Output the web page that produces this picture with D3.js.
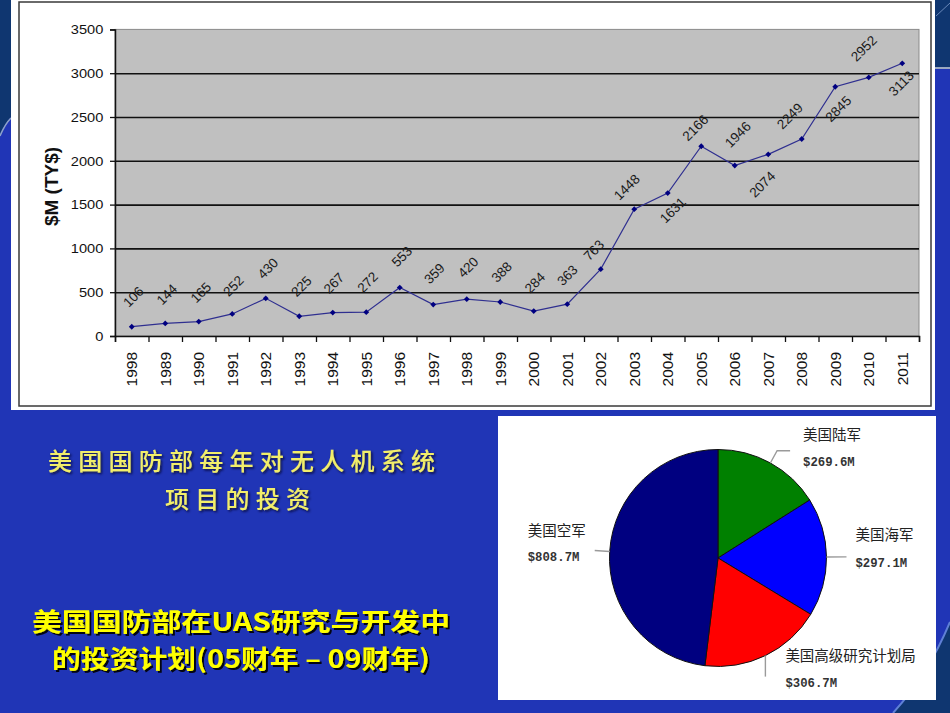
<!DOCTYPE html>
<html><head><meta charset="utf-8">
<script src="https://cdn.jsdelivr.net/npm/d3@7/dist/d3.min.js"></script>
<style>
html,body{margin:0;padding:0;background:#2035b6;}
svg{display:block;}
</style></head>
<body>
<svg id="c" width="950" height="713"></svg>
<script>
// ---------- data ----------
const categories = ["1998","1989","1990","1991","1992","1993","1994","1995","1996","1997","1998","1999","2000","2001","2002","2003","2004","2005","2006","2007","2008","2009","2010","2011"];
const values = [106,144,165,252,430,225,267,272,553,359,420,388,284,363,763,1448,1631,2166,1946,2074,2249,2845,2952,3113];
const yTicks = [0,500,1000,1500,2000,2500,3000,3500];
const gridValues = [500,1000,1500,2000,2500,3000];
const yAxisTitle = "$M (TY$)";

const pieNames = ["美国陆军","美国海军","美国高级研究计划局","美国空军"];
const pieValues = [269.6,297.1,306.7,808.7];
const pieValueText = ["$269.6M","$297.1M","$306.7M","$808.7M"];
const pieColors = ["#008000","#0000ff","#ff0000","#000080"];

const titleLines = ["美国国防部每年对无人机系统","项目的投资"];
const subLines = ["美国国防部在UAS研究与开发中","的投资计划(05财年 – 09财年)"];

// label nudges (dx, dy) of each value label relative to its point
const labelNudge = [[1.5,-30],[1.5,-29],[2,-29],[1,-28],[2,-30],[2,-30],[1,-29.5],[1.3,-30],[2,-31],[1,-31],[1.3,-32],[1.3,-30],[1,-28.5],[0,-29],[-7,-19],[-7.5,-22],[5,17],[-6,-18.5],[3,-31],[-6,30],[-12,-23],[3,22],[-5,-29],[-1,20]];

// ---------- drawing ----------
const svg = d3.select("#c");
const defs = svg.append("defs");
const f = defs.append("filter").attr("id","sh").attr("x","-10%").attr("y","-30%").attr("width","130%").attr("height","180%");
f.append("feDropShadow").attr("dx",2).attr("dy",2).attr("stdDeviation",0.7).attr("flood-color","#000").attr("flood-opacity",0.9);
const f2 = defs.append("filter").attr("id","sh2").attr("x","-10%").attr("y","-30%").attr("width","130%").attr("height","180%");
f2.append("feDropShadow").attr("dx",1.5).attr("dy",1.5).attr("stdDeviation",0.8).attr("flood-color","#101030").attr("flood-opacity",0.9);

// background
svg.append("rect").attr("width",950).attr("height",713).attr("fill","#2035b6");
svg.append("path").attr("d","M0,0H11V117Q5,123 0,134Z").attr("fill","#0f3670");
svg.append("path").attr("d","M0,136Q5,124 11,118").attr("fill","none").attr("stroke","#8ea3c9").attr("stroke-width",1.5);
svg.append("rect").attr("x",935).attr("y",0).attr("width",15).attr("height",68).attr("fill","#0f3670");
svg.append("line").attr("x1",935).attr("x2",950).attr("y1",68).attr("y2",68).attr("stroke","#9aa8c0").attr("stroke-width",2);
svg.append("line").attr("x1",936).attr("x2",950).attr("y1",16).attr("y2",3).attr("stroke","#6a88b8").attr("stroke-width",1);
svg.append("path").attr("d","M950,622L950,713L893,713Q928,675 950,622Z").attr("fill","#0f3670");
svg.append("path").attr("d","M893,713Q928,675 950,622").attr("fill","none").attr("stroke","#5f80d6").attr("stroke-width",2);

// line chart panel
svg.append("rect").attr("x",11).attr("y",0).attr("width",924).attr("height",410).attr("fill","#fff");
svg.append("rect").attr("x",19).attr("y",2).attr("width",912).attr("height",404).attr("fill","none").attr("stroke","#3a3a3a").attr("stroke-width",1.5);

const L = 115, R = 919, T = 29.4, B = 336;
const x = d3.scaleBand().domain(d3.range(categories.length)).range([L,R]).padding(0);
const xb = d3.scaleLinear().domain([0,categories.length]).range([L,R]);
const y = d3.scaleLinear().domain([0,3500]).range([B,T]);

const g = svg.append("g");
g.append("rect").attr("x",L).attr("y",T).attr("width",R-L).attr("height",B-T).attr("fill","#c0c0c0").attr("stroke","#8a8a8a").attr("stroke-width",1);

// gridlines
g.append("g").attr("transform",`translate(${L},0)`)
 .call(d3.axisLeft(y).tickValues(gridValues).tickSize(-(R-L)).tickFormat(""))
 .call(s=>s.select(".domain").remove())
 .call(s=>s.selectAll("line").attr("stroke","#111").attr("stroke-width",1.6));

// y axis
const ya = g.append("g").attr("transform",`translate(${L},0)`)
 .call(d3.axisLeft(y).tickValues(yTicks).tickSize(5).tickFormat(d3.format("d")));
ya.select(".domain").attr("stroke","#111").attr("stroke-width",1.5);
ya.selectAll("line").attr("stroke","#111").attr("stroke-width",1.3);
ya.selectAll("text").attr("x",-10).attr("dy","0.34em").attr("transform","scale(1.17,1)")
  .attr("font-family","Liberation Sans, Arial, sans-serif").attr("font-size",12.5).attr("fill","#111");

// x axis tick marks at boundaries
const xt = g.append("g").attr("transform",`translate(0,${B})`)
 .call(d3.axisBottom(xb).tickValues(d3.range(categories.length+1)).tickSize(6).tickFormat(""));
xt.select(".domain").attr("stroke","#111").attr("stroke-width",1.5);
xt.selectAll("line").attr("stroke","#111").attr("stroke-width",1.3);

// x axis labels
const xl = g.append("g").attr("transform",`translate(0,${B})`)
 .call(d3.axisBottom(x).tickSize(0).tickFormat(i=>categories[i]));
xl.select(".domain").remove();
xl.selectAll("text").attr("x",0).attr("y",0).attr("dy","0.36em")
  .attr("text-anchor","end").attr("transform","translate(0,16) rotate(-90)")
  .attr("font-family","Liberation Sans, Arial, sans-serif").attr("font-size",15.5).attr("fill","#111");

// y axis title
g.append("text").attr("transform","translate(51.5,186.5) rotate(-90)")
 .attr("text-anchor","middle").attr("dy","0.36em")
 .attr("font-family","Liberation Sans, Arial, sans-serif").attr("font-weight","bold").attr("font-size",19).attr("fill","#111")
 .text(yAxisTitle);

// line + markers
const cx = i => x(i) + x.bandwidth()/2;
g.append("path").datum(values)
 .attr("d", d3.line().x((d,i)=>cx(i)).y(d=>y(d)))
 .attr("fill","none").attr("stroke","#2f2f90").attr("stroke-width",1.2);
g.selectAll(".mk").data(values).join("path").attr("class","mk")
 .attr("transform",(d,i)=>`translate(${cx(i)},${y(d)}) rotate(45)`)
 .attr("d", d3.symbol(d3.symbolSquare, 17))
 .attr("fill","#000080");

// value labels
g.selectAll(".vl").data(values).join("text").attr("class","vl")
 .attr("transform",(d,i)=>`translate(${cx(i)+labelNudge[i][0]},${y(d)+labelNudge[i][1]}) rotate(-45)`)
 .attr("text-anchor","middle").attr("dy","0.35em")
 .attr("font-family","Liberation Sans, Arial, sans-serif").attr("font-size",13.5).attr("fill","#1a1a1a")
 .text(d=>d);

// ---------- pie panel ----------
svg.append("rect").attr("x",498).attr("y",416).attr("width",438).attr("height",284).attr("fill","#fff");
const pcx = 718, pcy = 558, pr = 108.5;
const pie = d3.pie().sort(null)(pieValues);
const arc = d3.arc().innerRadius(0).outerRadius(pr);
const pg = svg.append("g").attr("transform",`translate(${pcx},${pcy})`);
pg.selectAll("path").data(pie).join("path").attr("d",arc)
  .attr("fill",(d,i)=>pieColors[i]).attr("stroke","#111").attr("stroke-width",1);

// leaders: [radial extension, horizontal extension, vertical extension]
const leaderSpec = [[14,13,0],[20,0,0],[0,0,21],[15,0,0]];
// label anchor offsets from leader end: [dx, dyName, dyValue]
const labelSpec = [[13,-11,15],[9,-17,10],[20,-16,10],[-67,-15,10]];
pie.forEach((d,i)=>{
  const a = (d.startAngle+d.endAngle)/2;
  const sx = Math.sin(a), sy = -Math.cos(a);
  let p0 = [pr*sx, pr*sy];
  let p1 = [(pr+leaderSpec[i][0])*sx, (pr+leaderSpec[i][0])*sy];
  let p2 = [p1[0] + Math.sign(sx)*leaderSpec[i][1], p1[1] + leaderSpec[i][2]];
  pg.append("path").attr("d",d3.line()([p0,p1,p2])).attr("fill","none").attr("stroke","#9a9a9a").attr("stroke-width",1.4);
  const ex = p2[0] + labelSpec[i][0];
  pg.append("text").attr("x",ex).attr("y",p2[1]+labelSpec[i][1])
    .attr("font-family","Noto Sans CJK SC, sans-serif").attr("font-size",14.5).attr("fill","#222").text(pieNames[i]);
  pg.append("text").attr("x",ex).attr("y",p2[1]+labelSpec[i][2])
    .attr("font-family","Liberation Mono, DejaVu Sans Mono, monospace").attr("font-size",12.3).attr("font-weight","bold").attr("fill","#333").text(pieValueText[i]);
});

// ---------- texts on the left ----------
const tg = svg.append("g");
const titleSpec = [[241.5,470,387],[237.5,508,145]];
titleLines.forEach((t,i)=>{
  tg.append("text").attr("x",titleSpec[i][0]).attr("y",titleSpec[i][1]).attr("text-anchor","middle")
    .attr("textLength",titleSpec[i][2]).attr("lengthAdjust","spacing")
    .attr("font-family","Noto Sans CJK SC, sans-serif").attr("font-weight",500).attr("font-size",24)
    .attr("fill","#f2ee6a").attr("filter","url(#sh2)").text(t);
});
const subSpec = [[241,631,418],[241,668,378]];
subLines.forEach((t,i)=>{
  tg.append("text").attr("x",subSpec[i][0]).attr("y",subSpec[i][1]).attr("text-anchor","middle")
    .attr("textLength",subSpec[i][2]).attr("lengthAdjust","spacingAndGlyphs")
    .attr("font-family","Noto Sans CJK SC, sans-serif").attr("font-weight",700).attr("font-size",25.5)
    .attr("fill","#ffff00").attr("filter","url(#sh)").text(t);
});
</script>
</body></html>
